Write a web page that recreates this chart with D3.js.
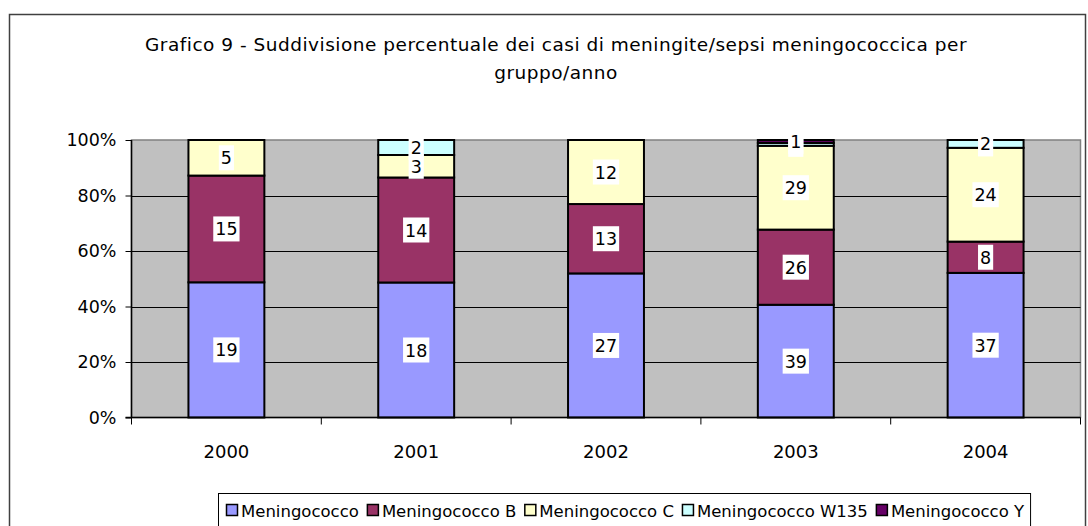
<!DOCTYPE html>
<html><head><meta charset="utf-8">
<script src="https://cdn.jsdelivr.net/npm/d3@7"></script>
<style>body{margin:0;background:#fff}svg{display:block;font-family:"DejaVu Sans",Verdana,sans-serif}</style>
</head><body><svg id="c" width="1088" height="526"></svg>
<script>
const years = ["2000","2001","2002","2003","2004"];
const seriesNames = ["Meningococco","Meningococco B","Meningococco C","Meningococco W135","Meningococco Y"];
const colors = ["#9999FF","#993366","#FFFFCC","#CCFFFF","#660066"];
const meningococco = [19,18,27,39,37];
const meningococcoB = [15,14,13,26,8];
const meningococcoC = [5,3,12,29,24];
const meningococcoW135 = [0,2,0,1,2];
const meningococcoY = [0,0,0,1,0];
const yTicks = [0,0.2,0.4,0.6,0.8,1];

const seriesVals = [meningococco,meningococcoB,meningococcoC,meningococcoW135,meningococcoY];
const rows = years.map((y,i)=>{const r={year:y};seriesNames.forEach((s,k)=>r[s]=seriesVals[k][i]);return r;});
const stack = d3.stack().keys(seriesNames).offset(d3.stackOffsetExpand)(rows);

const svg = d3.select("#c");
const L=131.5, R=1080.5, T=140, B=417.5;
const FS = 17.5;
svg.append("rect").attr("x",9.5).attr("y",14.5).attr("width",1076).attr("height",600).attr("fill","#fff").attr("stroke","#404040").attr("stroke-width",1.5);

svg.append("text").attr("x",556).attr("y",51).attr("text-anchor","middle").attr("font-size",18.5).attr("letter-spacing",0.5).text("Grafico 9 - Suddivisione percentuale dei casi di meningite/sepsi meningococcica per");
svg.append("text").attr("x",556).attr("y",79).attr("text-anchor","middle").attr("font-size",18.5).attr("letter-spacing",0.5).text("gruppo/anno");

const x = d3.scaleBand().domain(years).range([L,R]).paddingInner(0.6).paddingOuter(0.3);
const y = d3.scaleLinear().domain([0,1]).range([B,T]);

svg.append("rect").attr("x",L).attr("y",T).attr("width",R-L).attr("height",B-T).attr("fill","#C0C0C0").attr("stroke","#808080").attr("stroke-width",1.5);
svg.append("g").selectAll("line").data(yTicks.slice(1,-1)).join("line")
 .attr("x1",L).attr("x2",R).attr("y1",d=>Math.round(y(d))+0.5).attr("y2",d=>Math.round(y(d))+0.5).attr("stroke","#000").attr("stroke-width",1);

const g = svg.append("g");
stack.forEach((s,k)=>{
  g.append("g").selectAll("rect").data(s.filter(d=>d[1]-d[0]>0)).join("rect")
   .attr("x",d=>x(d.data.year)).attr("width",x.bandwidth())
   .attr("y",d=>y(d[1])).attr("height",d=>y(d[0])-y(d[1]))
   .attr("fill",colors[k]).attr("stroke","#000").attr("stroke-width",2);
});

const ya = svg.append("g").attr("transform",`translate(${L},0)`).call(d3.axisLeft(y).tickValues(yTicks).tickFormat(d3.format(".0%")).tickSize(6).tickPadding(9));
ya.selectAll("text").attr("font-size",FS).attr("fill","#000").attr("font-family","DejaVu Sans, Verdana, sans-serif");
ya.selectAll("line,path").attr("stroke","#000");
ya.select("path").attr("d",`M0,${T}V${B}`).attr("stroke-width",1.5);

const bounds = d3.range(years.length+1).map(i=>L+i*(R-L)/years.length);
svg.append("line").attr("x1",L-6).attr("x2",R).attr("y1",B).attr("y2",B).attr("stroke","#000").attr("stroke-width",1.5);
svg.append("g").selectAll("line").data(bounds).join("line").attr("x1",d=>d).attr("x2",d=>d).attr("y1",B).attr("y2",B+7).attr("stroke","#000");
svg.append("g").selectAll("text").data(years).join("text")
 .attr("x",d=>x(d)+x.bandwidth()/2).attr("y",457.5).attr("text-anchor","middle").attr("font-size",18).text(d=>d);

stack.forEach((s,k)=>{
  s.forEach(d=>{
    const v = d.data[seriesNames[k]];
    if(!v) return;
    const cx = x(d.data.year)+x.bandwidth()/2, cy=(y(d[0])+y(d[1]))/2;
    const t = g.append("text").attr("x",cx).attr("y",cy+6.5).attr("text-anchor","middle").attr("font-size",FS).text(v);
    const bb = t.node().getBBox();
    g.insert("rect",()=>t.node()).attr("x",bb.x-2).attr("y",cy-12.5).attr("width",bb.width+4).attr("height",25).attr("fill","#fff");
  });
});

// legend
const lg = svg.append("g");
const box = lg.append("rect").attr("y",493.5).attr("height",60).attr("fill","#fff").attr("stroke","#000");
let cx = 0;
const items = lg.append("g");
seriesNames.forEach((s,k)=>{
  items.append("rect").attr("x",cx+0.5).attr("y",504.5).attr("width",11).attr("height",11).attr("fill",colors[k]).attr("stroke","#000").attr("stroke-width",1.5);
  const t = items.append("text").attr("x",cx+15).attr("y",516.5).attr("font-size",16.5).text(s);
  cx += 15 + t.node().getComputedTextLength() + 8;
});
const totalW = cx - 8;
const centre = 625;
items.attr("transform",`translate(${Math.round(centre-totalW/2)},0)`);
box.attr("x",Math.round(centre-totalW/2)-7.5).attr("width",totalW+14);
</script></body></html>
